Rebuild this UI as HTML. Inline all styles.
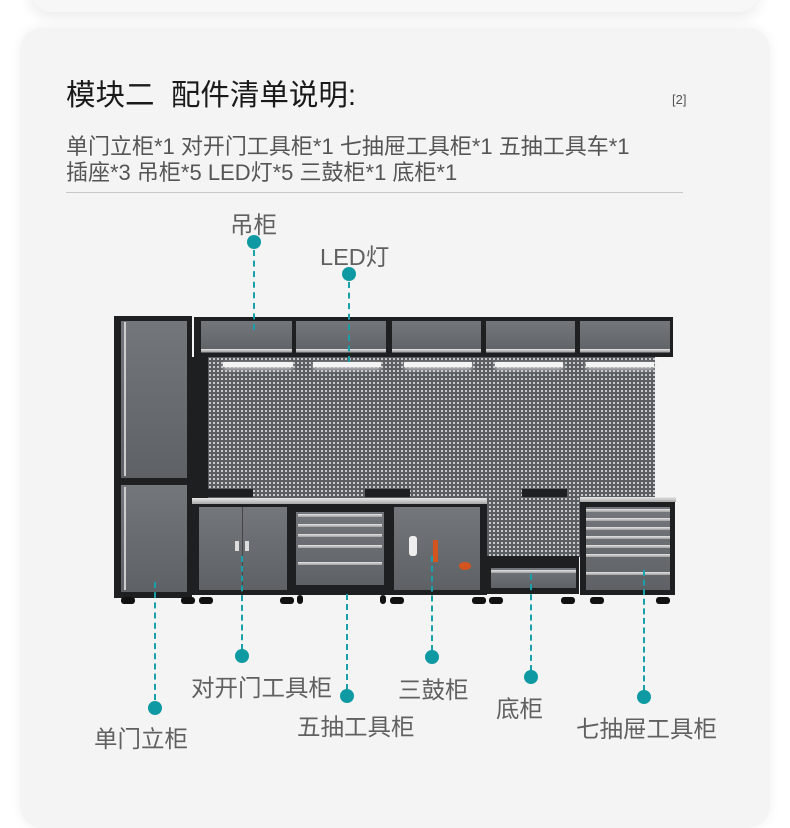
<!DOCTYPE html>
<html><head><meta charset="utf-8"><style>
*{margin:0;padding:0;box-sizing:border-box}
body{width:790px;height:789px;background:#fff;position:relative;overflow:hidden;font-family:"Liberation Sans","Noto Sans CJK SC",sans-serif}
.a{position:absolute}
.card{left:20px;top:28px;width:750px;height:800px;background:#f4f4f4;border-radius:22px;box-shadow:0 0 12px rgba(0,0,0,.06)}
.top{left:30px;top:-40px;width:730px;height:52px;background:#f7f7f7;border-radius:22px;box-shadow:0 6px 14px rgba(0,0,0,.08)}
.t{color:#606060;font-size:23.5px;white-space:nowrap}
.dot{width:14px;height:14px;border-radius:50%;background:#0f9aa3}
.dl{width:0;border-left:2px dashed #1aa0a8}
.peg{background-color:#5a5d60;background-image:radial-gradient(circle,#d0d2d4 0.9px,transparent 1.3px);background-size:4px 4px}
.blk{background:#1e1f21}
.gr{background:linear-gradient(#73777b,#5e6266)}
.dr{background:linear-gradient(#e4e4e4,#a0a0a0);height:3px}
.foot{width:14px;height:7px;background:#111;border-radius:3px}
</style></head><body>
<div class="a top"></div>
<div class="a card"></div>
<div class="a" style="left:66px;top:72px;font-size:29.5px;color:#1a1a1a;white-space:nowrap">模块二&nbsp; 配件清单说明:</div>
<div class="a" style="left:672px;top:92px;font-size:13px;color:#555">[2]</div>
<div class="a" style="left:66px;top:134px;font-size:22px;line-height:26px;color:#555;white-space:nowrap">单门立柜*1 对开门工具柜*1 七抽屉工具柜*1 五抽工具车*1<br>插座*3 吊柜*5 LED灯*5 三鼓柜*1 底柜*1</div>
<div class="a" style="left:66px;top:192px;width:617px;height:1px;background:#c8c8c8"></div>

<div class="a blk" style="left:194px;top:317px;width:479px;height:40px"></div>
<div class="a gr" style="left:201px;top:321px;width:91px;height:32px"></div>
<div class="a gr" style="left:296px;top:321px;width:90px;height:32px"></div>
<div class="a gr" style="left:392px;top:321px;width:89px;height:32px"></div>
<div class="a gr" style="left:486px;top:321px;width:89px;height:32px"></div>
<div class="a gr" style="left:580px;top:321px;width:90px;height:32px"></div>
<div class="a dr" style="left:201px;top:349px;width:91px"></div>
<div class="a dr" style="left:296px;top:349px;width:90px"></div>
<div class="a dr" style="left:392px;top:349px;width:89px"></div>
<div class="a dr" style="left:486px;top:349px;width:89px"></div>
<div class="a dr" style="left:580px;top:349px;width:90px"></div>
<div class="a blk" style="left:192px;top:357px;width:18px;height:142px"></div>
<div class="a peg" style="left:208px;top:357px;width:447px;height:200px"></div>
<div class="a" style="left:223px;top:362px;width:70px;height:5px;background:#f4f4f4;box-shadow:0 2px 5px #ddd"></div>
<div class="a" style="left:313px;top:362px;width:68px;height:5px;background:#f4f4f4;box-shadow:0 2px 5px #ddd"></div>
<div class="a" style="left:404px;top:362px;width:68px;height:5px;background:#f4f4f4;box-shadow:0 2px 5px #ddd"></div>
<div class="a" style="left:495px;top:362px;width:68px;height:5px;background:#f4f4f4;box-shadow:0 2px 5px #ddd"></div>
<div class="a" style="left:586px;top:362px;width:68px;height:5px;background:#f4f4f4;box-shadow:0 2px 5px #ddd"></div>
<div class="a blk" style="left:208px;top:489px;width:45px;height:8px"></div>
<div class="a blk" style="left:365px;top:489px;width:45px;height:8px"></div>
<div class="a blk" style="left:522px;top:489px;width:45px;height:8px"></div>
<div class="a blk" style="left:114px;top:316px;width:78px;height:282px"></div>
<div class="a gr" style="left:121px;top:321px;width:66px;height:157px"></div>
<div class="a gr" style="left:121px;top:485px;width:66px;height:107px"></div>
<div class="a" style="left:124px;top:322px;width:2px;height:154px;background:#ccc"></div>
<div class="a" style="left:124px;top:487px;width:2px;height:103px;background:#ccc"></div>
<div class="a" style="left:192px;top:498px;width:295px;height:6px;background:linear-gradient(#e8e8e8,#a8a8a8)"></div>
<div class="a blk" style="left:192px;top:504px;width:295px;height:91px"></div>
<div class="a gr" style="left:199px;top:507px;width:88px;height:83px"></div>
<div class="a" style="left:242px;top:507px;width:1px;height:83px;background:#444"></div>
<div class="a" style="left:235px;top:541px;width:4px;height:10px;background:#ddd"></div>
<div class="a" style="left:245px;top:541px;width:4px;height:10px;background:#ddd"></div>
<div class="a gr" style="left:296px;top:512px;width:88px;height:73px"></div>
<div class="a dr" style="left:298px;top:514px;width:84px"></div>
<div class="a dr" style="left:298px;top:524px;width:84px"></div>
<div class="a dr" style="left:298px;top:534px;width:84px"></div>
<div class="a dr" style="left:298px;top:545px;width:84px"></div>
<div class="a dr" style="left:298px;top:562px;width:84px"></div>
<div class="a gr" style="left:394px;top:507px;width:86px;height:83px"></div>
<div class="a" style="left:409px;top:536px;width:8px;height:20px;background:#eee;border-radius:3px"></div>
<div class="a" style="left:433px;top:540px;width:5px;height:22px;background:#d2541f"></div>
<div class="a" style="left:459px;top:562px;width:12px;height:8px;background:#d2541f;border-radius:50%"></div>
<div class="a blk" style="left:486px;top:556px;width:93px;height:38px"></div>
<div class="a gr" style="left:491px;top:568px;width:85px;height:20px"></div>
<div class="a dr" style="left:491px;top:570px;width:85px"></div>
<div class="a" style="left:580px;top:497px;width:96px;height:5px;background:linear-gradient(#e8e8e8,#a8a8a8)"></div>
<div class="a blk" style="left:580px;top:502px;width:95px;height:93px"></div>
<div class="a gr" style="left:586px;top:507px;width:84px;height:83px"></div>
<div class="a dr" style="left:586px;top:509px;width:84px"></div>
<div class="a dr" style="left:586px;top:518px;width:84px"></div>
<div class="a dr" style="left:586px;top:527px;width:84px"></div>
<div class="a dr" style="left:586px;top:536px;width:84px"></div>
<div class="a dr" style="left:586px;top:545px;width:84px"></div>
<div class="a dr" style="left:586px;top:554px;width:84px"></div>
<div class="a dr" style="left:586px;top:572px;width:84px"></div>
<div class="a foot" style="left:121px;top:597px"></div>
<div class="a foot" style="left:181px;top:597px"></div>
<div class="a foot" style="left:199px;top:597px"></div>
<div class="a foot" style="left:280px;top:597px"></div>
<div class="a foot" style="left:297px;top:595px;width:6px;height:9px"></div>
<div class="a foot" style="left:380px;top:595px;width:6px;height:9px"></div>
<div class="a foot" style="left:390px;top:597px"></div>
<div class="a foot" style="left:472px;top:597px"></div>
<div class="a foot" style="left:489px;top:597px"></div>
<div class="a foot" style="left:561px;top:597px"></div>
<div class="a foot" style="left:590px;top:597px"></div>
<div class="a foot" style="left:656px;top:597px"></div>

<div class="a t" style="left:230px;top:206px">吊柜</div>
<div class="a dot" style="left:247px;top:235px"></div>
<div class="a dl" style="left:253px;top:250px;height:80px"></div>
<div class="a t" style="left:320px;top:238px">LED灯</div>
<div class="a dot" style="left:342px;top:267px"></div>
<div class="a dl" style="left:348px;top:282px;height:80px"></div>

<div class="a dl" style="left:154px;top:582px;height:118px"></div>
<div class="a dot" style="left:148px;top:701px"></div>
<div class="a t" style="left:94px;top:720px">单门立柜</div>
<div class="a dl" style="left:241px;top:556px;height:94px"></div>
<div class="a dot" style="left:235px;top:649px"></div>
<div class="a t" style="left:191px;top:669px">对开门工具柜</div>
<div class="a dl" style="left:346px;top:594px;height:96px"></div>
<div class="a dot" style="left:340px;top:689px"></div>
<div class="a t" style="left:297px;top:708px">五抽工具柜</div>
<div class="a dl" style="left:431px;top:556px;height:95px"></div>
<div class="a dot" style="left:425px;top:650px"></div>
<div class="a t" style="left:398px;top:671px">三鼓柜</div>
<div class="a dl" style="left:530px;top:574px;height:97px"></div>
<div class="a dot" style="left:524px;top:670px"></div>
<div class="a t" style="left:496px;top:690px">底柜</div>
<div class="a dl" style="left:643px;top:570px;height:121px"></div>
<div class="a dot" style="left:637px;top:690px"></div>
<div class="a t" style="left:576px;top:710px">七抽屉工具柜</div>
</body></html>
